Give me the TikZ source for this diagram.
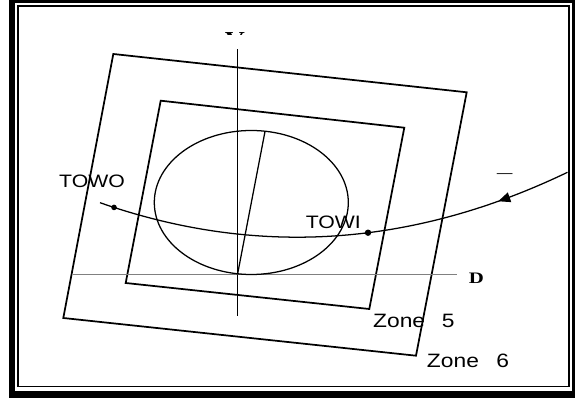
\documentclass[tikz,border=0pt]{standalone}
\usepackage{fontspec}
\newfontfamily\labelfont[FakeStretch=1.18]{Liberation Sans}
\newfontfamily\axisfont[FakeStretch=1.3]{Liberation Serif}
\usetikzlibrary{arrows.meta,decorations.markings}

\begin{document}
\begin{tikzpicture}[x=0.75pt,y=-0.75pt,
  zone/.style={line width=1.3pt,line join=miter},
  thinline/.style={line width=0.95pt},
  dotmark/.style={circle,fill,inner sep=0pt,minimum size=4.8pt},
  txt/.style={font=\labelfont\fontsize{13.5}{15}\selectfont,inner sep=0pt},
  zonetxt/.style={font=\labelfont\fontsize{14.5}{17}\selectfont,inner sep=0pt},
  axtxt/.style={font=\axisfont\bfseries,inner sep=0pt}]
  \clip (0,0) rectangle (575,398);

  % frame
  \draw[line width=4.9pt] (12,0) rectangle (575,394.5);
  \draw[line width=1.3pt] (18.2,5.7) rectangle (569,386.5);

  % zones 6 and 5
  \draw[zone] (113.3,54) -- (466.7,92.3) -- (416,355.7) -- (63.3,318) -- cycle;
  \draw[zone] (160.7,100.7) -- (404.3,127.7) -- (369.3,309) -- (125.7,283) -- cycle;
  \node[zonetxt] (zfive) at (413.8,320.5) {Zone\hspace{12.5pt}5};
  \node[zonetxt] (zsix) at (468,361.2) {Zone\hspace{13pt}6};

  % axes
  \coordinate (o) at (237.5,274.5);
  \coordinate (vtop) at (237.5,49);
  \coordinate (vbot) at (237.5,316);
  \coordinate (dleft) at (72.7,274.5);
  \coordinate (dright) at (457.3,274.5);
  \draw[thinline] (vbot) -- (vtop);
  \draw[thinline,gray] (dleft) -- (dright);
  \node[axtxt,font=\axisfont\bfseries\fontsize{12}{14}\selectfont] (dlab) at (476.5,278) {D};
  \begin{scope}
    \clip (200,0) rectangle (280,34.5);
    \node[axtxt,font=\axisfont\bfseries\fontsize{16}{18}\selectfont,anchor=north] (vlab) at (235,32) {V};
  \end{scope}

  % ellipse and radius
  \draw[thinline] (251.3,202.5) ellipse [x radius=97, y radius=72];
  \coordinate (p) at (265,131.5);
  \draw[thinline] (o) -- (p);

  % trajectory
  \coordinate (tstart) at (567.5,172.3);
  \coordinate (tend) at (100,202.7);
  \draw[thinline,
    decoration={markings,mark=at position 0.156 with {\arrow{Triangle[length=9pt,width=7.5pt]}}},
    postaction={decorate}]
    (tstart) .. controls (411.67,247.1) and (255.83,257.23) .. (tend)
    node[dotmark,pos=0.4267] (towi) {}
    node[dotmark,minimum size=4.2pt,pos=0.970] (towo) {};
  \node[txt] (towolab) at (92,181) {TOWO};
  \node[txt] (towilab) at (333.3,222) {TOWI};
  \node[txt,font=\labelfont\fontsize{10}{12}\selectfont,anchor=base] (dash) at (504.7,177.5) {—};
\end{tikzpicture}
\end{document}
